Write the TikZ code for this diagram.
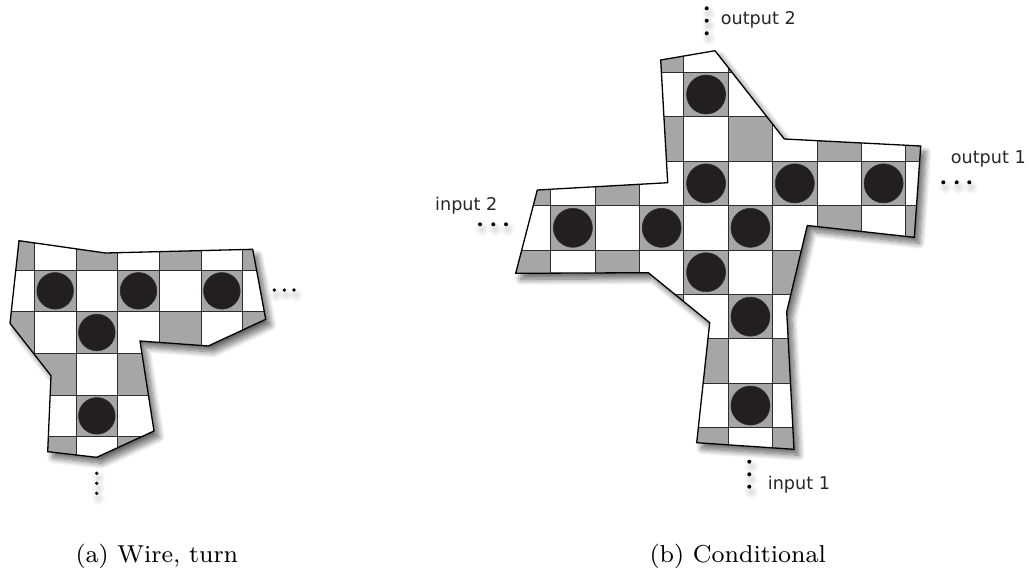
\documentclass[tikz,border=0pt]{standalone}
\usepackage{fontspec}
\newfontfamily\labelfont{DejaVu Sans}
\usetikzlibrary{shadows.blur}
\definecolor{cellgray}{RGB}{166,166,169}
\definecolor{discblack}{RGB}{35,31,32}
\definecolor{gridgray}{RGB}{45,45,45}
\tikzset{
  shadowed/.style={fill=white, blur shadow={shadow xshift=5pt, shadow yshift=-6pt, shadow blur radius=6pt, shadow blur steps=12, shadow opacity=60}},
  outline/.style={draw=black, line width=1.3pt, line join=miter},
  gridlines/.style={draw=gridgray, line width=0.9pt},
  disc/.style={fill=discblack, draw=gridgray, line width=0.6pt},
  dotmark/.style={fill=black, blur shadow={shadow xshift=2pt, shadow yshift=-5pt, shadow blur radius=6pt, shadow blur steps=10, shadow opacity=20}},
  portlabel/.style={font=\labelfont\fontsize{17.6}{20}\selectfont, inner sep=0pt, anchor=base west, text=black!85},
  caption/.style={font=\fontsize{8}{10}\selectfont, scale=3.06, inner sep=0pt, anchor=base west}
}
\begin{document}
\begin{tikzpicture}[x=1pt,y=-1pt]
\useasboundingbox (0,0) rectangle (1031,571);

% ---------------- (a) Wire, turn ----------------
\def\shapeA{(19,240.7) -- (105.5,253) -- (252.7,249.3) -- (265.7,319.3) -- (208.3,346) -- (140,341) -- (154,431) -- (96.7,457.3) -- (47.7,451.7) -- (51,375.7) -- (10,323.3) -- cycle}
\path[shadowed] \shapeA;
\begin{scope}
  \clip \shapeA;
  \fill[white] (0,220) rectangle (300,480);
  \foreach \i in {0,...,6}{
    \foreach \j in {0,...,5}{
      \pgfmathtruncatemacro\cellparity{mod(\i+\j,2)}
      \ifnum\cellparity=0
        \fill[cellgray] (34.33+41.67*\i-41.67,270+41.67*\j-41.67) rectangle ++(41.67,41.67);
      \fi
    }
  }
  \foreach \k in {-1,...,6}{
    \draw[gridlines] (34.33+41.67*\k,220) -- (34.33+41.67*\k,480);
  }
  \foreach \k in {-1,...,5}{
    \draw[gridlines] (0,270+41.67*\k) -- (300,270+41.67*\k);
  }
\end{scope}
\foreach \i/\j in {1/1,3/1,5/1,2/2,2/4}{
  \draw[disc] (34.33+41.67*\i-20.83,270+41.67*\j-20.83) circle[radius=18.3];
}
\draw[outline] \shapeA;
% dots
\foreach \x in {274.3,284.3,294}{ \path[dotmark] (\x,290) circle[radius=1.8]; }
\foreach \y in {473.3,483.3,493.3}{ \path[dotmark] (96.7,\y) circle[radius=1.8]; }

% ---------------- (b) Conditional ----------------
\def\shapeB{(660.7,60) -- (715,50.7) -- (784.3,139) -- (920.7,146) -- (914.3,237.3) -- (807.3,225.5) -- (786.7,311.7) -- (794,449.3) -- (696.7,442.7) -- (709.7,322.7) -- (648.3,272.7) -- (515.7,273.3) -- (537.3,190) -- (667.7,182.7) -- cycle}
\path[shadowed] \shapeB;
\begin{scope}
  \clip \shapeB;
  \fill[white] (500,40) rectangle (940,460);
  \foreach \i in {0,...,9}{
    \foreach \j in {0,...,9}{
      \pgfmathtruncatemacro\cellparity{mod(\i+\j,2)}
      \ifnum\cellparity=1
        \fill[cellgray] (506.3+44.39*\i,27.9+44.43*\j) rectangle ++(44.39,44.43);
      \fi
    }
  }
  \foreach \k in {0,...,10}{
    \draw[gridlines] (506.3+44.39*\k,20) -- (506.3+44.39*\k,480);
  }
  \foreach \k in {0,...,10}{
    \draw[gridlines] (490,27.9+44.43*\k) -- (960,27.9+44.43*\k);
  }
\end{scope}
\foreach \i/\j in {4/1,4/3,6/3,8/3,1/4,3/4,5/4,4/5,5/6,5/8}{
  \draw[disc] (506.3+44.39*\i+22.2,27.9+44.43*\j+22.2) circle[radius=19.5];
}
\draw[outline] \shapeB;
% dots
\foreach \y in {8.3,20.7,33.3}{ \path[dotmark] (706.7,\y) circle[radius=2]; }
\foreach \x in {943.3,956.7,969.3}{ \path[dotmark] (\x,182.3) circle[radius=2]; }
\foreach \x in {480,493.3,506}{ \path[dotmark] (\x,224.3) circle[radius=2]; }
\foreach \y in {461.7,474.3,486.7}{ \path[dotmark] (749.3,\y) circle[radius=2]; }

% labels
\node[portlabel] (out2) at (720.7,24) {output 2};
\node[portlabel] (out1) at (950.7,163.3) {output 1};
\node[portlabel] (in2) at (435,210.7) {input 2};
\node[portlabel] (in1) at (767.7,489.3) {input 1};

% captions
\node[caption] (capA) at (75,562) {(a) Wire, turn};
\node[caption] (capB) at (649,562) {(b) Conditional};
\end{tikzpicture}
\end{document}
